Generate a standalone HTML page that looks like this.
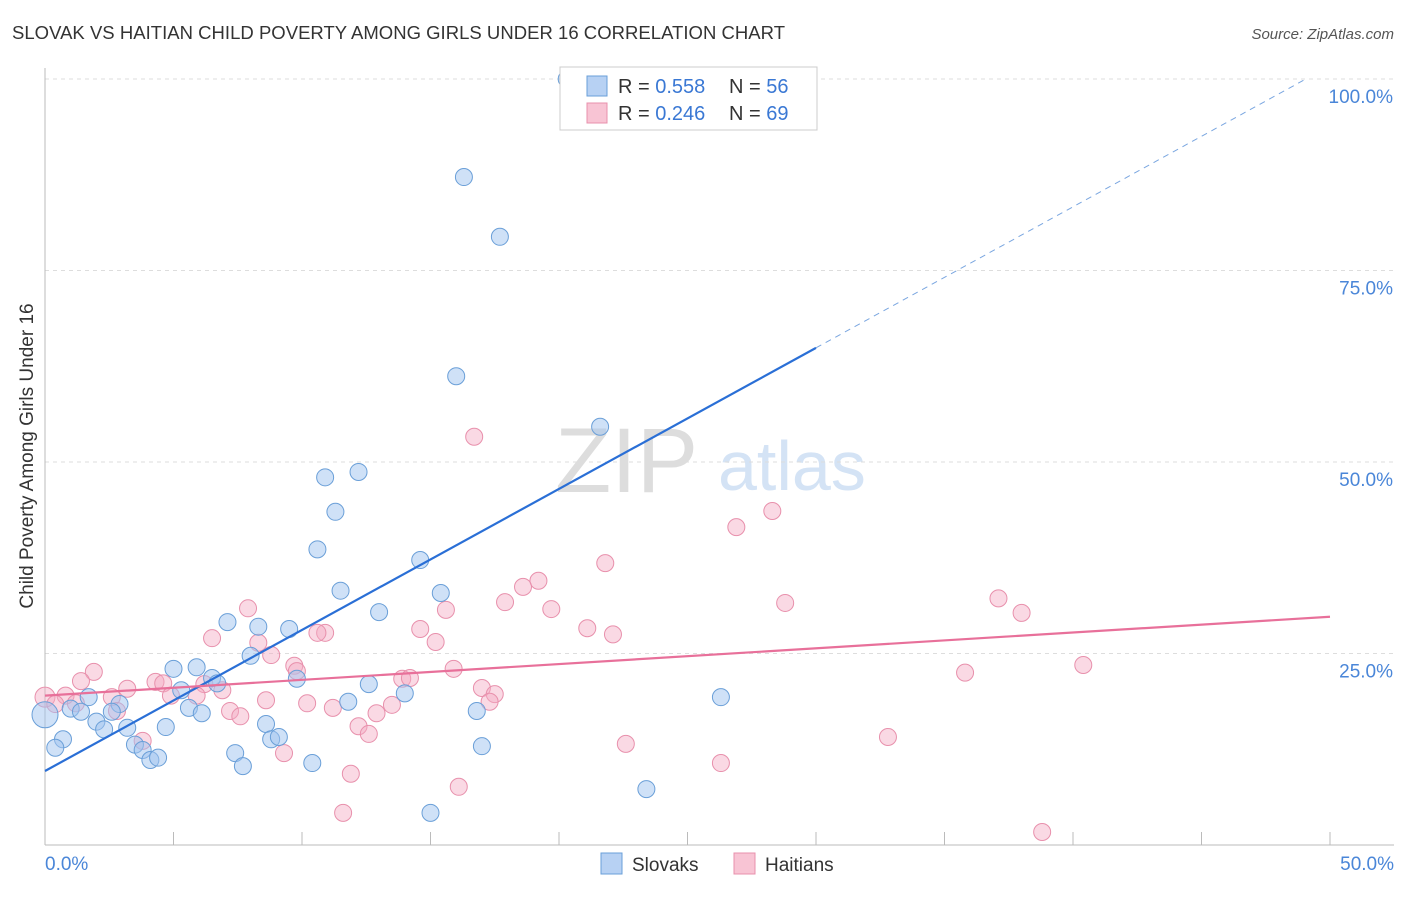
<!DOCTYPE html>
<html><head><meta charset="utf-8"><style>
body{margin:0;background:#fff;font-family:"Liberation Sans",sans-serif;}
svg text{font-family:"Liberation Sans",sans-serif;}
</style></head><body>
<svg width="1406" height="892" xmlns="http://www.w3.org/2000/svg">
<text x="12" y="39" font-size="18.5" fill="#333" textLength="773">SLOVAK VS HAITIAN CHILD POVERTY AMONG GIRLS UNDER 16 CORRELATION CHART</text>
<text x="1394" y="39" font-size="15" fill="#555" text-anchor="end" font-style="italic">Source: ZipAtlas.com</text>
<g>
<text x="555" y="492" font-size="92" fill="#ddd" font-family="Liberation Serif">ZIP</text>
<text x="718" y="490" font-size="70" fill="#d4e3f5">atlas</text>
</g>
<g id="grid"></g>
<g id="axes"></g>
<text transform="translate(33,456) rotate(-90)" font-size="19" fill="#333" text-anchor="middle">Child Poverty Among Girls Under 16</text>
<g id="pts"></g>
<g id="lines"></g>
<g>
<rect x="560" y="67" width="257" height="63" fill="#fff" stroke="#ccc"/>
<rect x="587" y="76" width="20" height="20" fill="#b7d1f3" stroke="#6a9fd8"/>
<rect x="587" y="103" width="20" height="20" fill="#f8c4d4" stroke="#e890ac"/>
<text x="618" y="93" font-size="20" fill="#333">R = <tspan fill="#3a78d4">0.558</tspan></text>
<text x="729" y="93" font-size="20" fill="#333">N = <tspan fill="#3a78d4">56</tspan></text>
<text x="618" y="120" font-size="20" fill="#333">R = <tspan fill="#3a78d4">0.246</tspan></text>
<text x="729" y="120" font-size="20" fill="#333">N = <tspan fill="#3a78d4">69</tspan></text>
</g>
<g>
<rect x="601" y="853" width="21" height="21" fill="#b7d1f3" stroke="#6a9fd8"/>
<text x="632" y="871" font-size="19" fill="#333">Slovaks</text>
<rect x="734" y="853" width="21" height="21" fill="#f8c4d4" stroke="#e890ac"/>
<text x="765" y="871" font-size="19" fill="#333">Haitians</text>
</g>
</svg>
<script>
const yTicks=[25,50,75,100];
const yTickLabels=["25.0%","50.0%","75.0%","100.0%"];
const xTickLabels=["0.0%","50.0%"];
const slovakX=[20.3,26.5,16.3,17.7,16.0,21.6,10.9,12.2,11.3,10.6,14.6,11.5,15.4,13.0,7.1,8.3,9.5,8.0,5.0,5.9,6.5,6.7,9.8,12.6,14.0,1.7,5.3,26.3,11.8,2.9,1.0,1.4,2.6,5.6,6.1,16.8,0,2.0,2.3,3.2,4.7,8.6,0.7,0.4,3.5,3.8,8.8,9.1,7.4,4.1,4.4,7.7,10.4,17.0,23.4,15.0];
const slovakY=[100,100,87.2,79.4,61.2,54.6,48.0,48.7,43.5,38.6,37.2,33.2,32.9,30.4,29.1,28.5,28.2,24.7,23.0,23.2,21.8,21.1,21.7,21.0,19.8,19.3,20.2,19.3,18.7,18.4,17.8,17.4,17.4,17.9,17.2,17.5,17.0,16.1,15.1,15.3,15.4,15.8,13.8,12.7,13.1,12.4,13.8,14.1,12.0,11.1,11.4,10.3,10.7,12.9,7.3,4.2];
const haitianX=[16.7,28.3,26.9,21.8,19.2,18.6,37.1,17.9,28.8,38.0,15.6,19.7,7.9,21.1,22.1,14.6,10.9,10.6,6.5,15.2,8.3,8.8,9.7,9.8,15.9,40.4,35.8,1.9,1.4,13.9,14.2,4.3,4.6,6.2,3.2,6.9,17.0,17.5,17.3,0.8,2.6,4.9,5.9,0,0.4,1.2,8.6,10.2,13.5,2.8,7.2,11.2,12.9,7.6,12.2,12.6,3.8,9.3,22.6,32.8,11.9,26.3,16.1,11.6,38.8];
const haitianY=[53.3,43.6,41.5,36.8,34.5,33.7,32.2,31.7,31.6,30.3,30.7,30.8,30.9,28.3,27.5,28.2,27.7,27.7,27.0,26.5,26.4,24.8,23.4,22.7,23.0,23.5,22.5,22.6,21.4,21.7,21.8,21.3,21.1,21.0,20.4,20.2,20.5,19.7,18.7,19.5,19.3,19.5,19.5,19.3,18.4,18.5,18.9,18.5,18.3,17.5,17.5,17.9,17.2,16.8,15.5,14.5,13.6,12.0,13.2,14.1,9.3,10.7,7.6,4.2,1.7];
const slovakTrend=[9.66,64.9];
const haitianTrend=[19.5,29.8];
const NS="http://www.w3.org/2000/svg";
const X=v=>45+v*25.7, Y=v=>845-v*7.66;
function mk(t,a,p){const e=document.createElementNS(NS,t);for(const k in a)e.setAttribute(k,a[k]);p.appendChild(e);return e;}
const grid=document.getElementById('grid'),axes=document.getElementById('axes'),pts=document.getElementById('pts'),lines=document.getElementById('lines');
yTicks.forEach((t,i)=>{
 const l=mk('line',{x1:45,x2:1394,y1:Y(t),y2:Y(t),stroke:'#ddd','stroke-dasharray':'4,4'},grid);
 
 
 const tx=mk('text',{x:1393,y:Y(t)+24,'font-size':19,fill:'#4a86d8','text-anchor':'end'},axes);
 tx.textContent=yTickLabels[i];
 
 
});
mk('line',{x1:45,x2:45,y1:68,y2:845,stroke:'#bbb'},axes);
mk('line',{x1:45,x2:1394,y1:845,y2:845,stroke:'#bbb'},axes);
for(let i=0;i<=10;i++){const tk=mk('line',{x1:X(i*5),x2:X(i*5),y1:832,y2:845,stroke:'#bbb'},axes);
 
 }
const xl0=mk('text',{x:45,y:870,'font-size':19,fill:'#4a86d8'},axes);xl0.textContent=xTickLabels[0];


const xl1=mk('text',{x:1394,y:870,'font-size':19,fill:'#4a86d8','text-anchor':'end'},axes);xl1.textContent=xTickLabels[1];


haitianX.forEach((x,i)=>{const c=mk('circle',{cx:X(x),cy:Y(haitianY[i]),r:x===0?10:8.5,fill:'rgba(245,170,195,0.45)',stroke:'#e890ac','stroke-width':1},pts);
 
 });
slovakX.forEach((x,i)=>{const c=mk('circle',{cx:X(x),cy:Y(slovakY[i]),r:x===0?13:8.5,fill:'rgba(160,195,240,0.5)',stroke:'#6a9fd8','stroke-width':1},pts);
 
 });
const sl=(slovakTrend[1]-slovakTrend[0])/30;
const b1=mk('line',{x1:X(0),y1:Y(slovakTrend[0]),x2:X(30),y2:Y(slovakTrend[1]),stroke:'#2a6fd6','stroke-width':2.2},lines);


const xe=(100-slovakTrend[0])/sl;
const b2=mk('line',{x1:X(30),y1:Y(slovakTrend[1]),x2:X(xe),y2:Y(100),stroke:'#7aa6e0','stroke-width':1,'stroke-dasharray':'6,5'},lines);


const p1=mk('line',{x1:X(0),y1:Y(haitianTrend[0]),x2:X(50),y2:Y(haitianTrend[1]),stroke:'#e8709a','stroke-width':2.2},lines);


</script>
</body></html>
